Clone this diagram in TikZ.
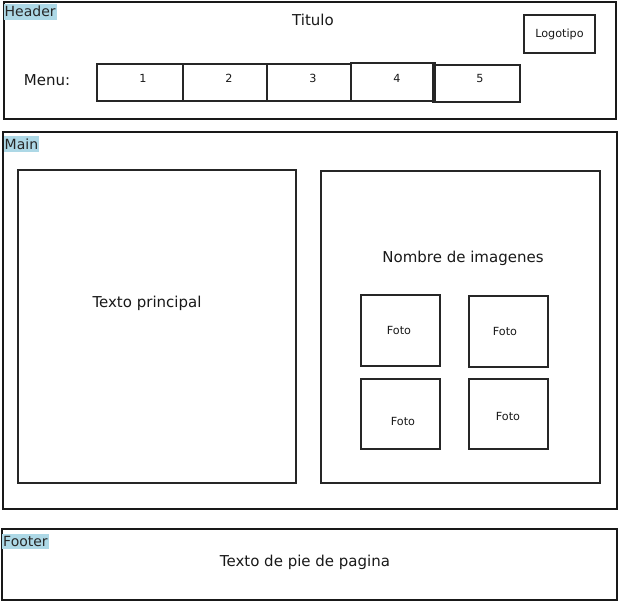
\documentclass[tikz,border=0pt]{standalone}
\usepackage{fontspec}
\setmainfont{DejaVu Sans}
\begin{document}
\begin{tikzpicture}[x=1pt,y=-1pt,
  region/.style={draw=black!90,line width=2pt},
  box/.style={draw=black!85,line width=1.8pt},
  tag/.style={fill=lightblue,inner xsep=1pt,inner ysep=2.5pt,anchor=north west,font=\fontsize{14}{14}\selectfont,text=black!85},
  big/.style={font=\fontsize{15}{17}\selectfont,text=black!90},
  small/.style={font=\fontsize{11.2}{13}\selectfont,text=black!90}]
\definecolor{lightblue}{RGB}{173,216,230}
\useasboundingbox (0,0) rectangle (618,602);
\fill[white] (0,0) rectangle (618,602);
% header
\draw[region] (4,2) rectangle (616,119);
\node[tag] (htag) at (3.5,3.5) {Header};
\node[big] (title) at (313,20) {Titulo};
\draw[box] (524,15) rectangle (595,53);
\node[small] (logo) at (559.5,34) {Logotipo};
\node[big] (menu) at (47,80) {Menu:};
\draw[box] (97,64) rectangle (183,101);
\draw[box] (183,64) rectangle (267,101);
\draw[box] (267,64) rectangle (351,101);
\draw[box] (351,63) rectangle (435,101);
\draw[box] (433,65) rectangle (520,102);
\node[small] (m1) at (143,78) {1};
\node[small] (m2) at (229,78) {2};
\node[small] (m3) at (313,78) {3};
\node[small] (m4) at (397,78) {4};
\node[small] (m5) at (480,78) {5};
% main
\draw[region] (3,132) rectangle (617,509);
\node[tag] (mtag) at (3.5,136) {Main};
\draw[box] (18,170) rectangle (296,483);
\node[big] (texto) at (147,303) {Texto principal};
\draw[box] (321,171) rectangle (600,483);
\node[big] (nombre) at (463,258) {Nombre de imagenes};
\draw[box] (361,295) rectangle (440,366);
\draw[box] (469,296) rectangle (548,367);
\draw[box] (361,379) rectangle (440,449);
\draw[box] (469,379) rectangle (548,449);
\node[small] (f1) at (399,330) {Foto};
\node[small] (f2) at (505,331) {Foto};
\node[small] (f3) at (403,421) {Foto};
\node[small] (f4) at (508,416) {Foto};
% footer
\draw[region] (2,529) rectangle (617,600);
\node[tag] (ftag) at (2,533.5) {Footer};
\node[big] (pie) at (305,562) {Texto de pie de pagina};
\end{tikzpicture}
\end{document}
